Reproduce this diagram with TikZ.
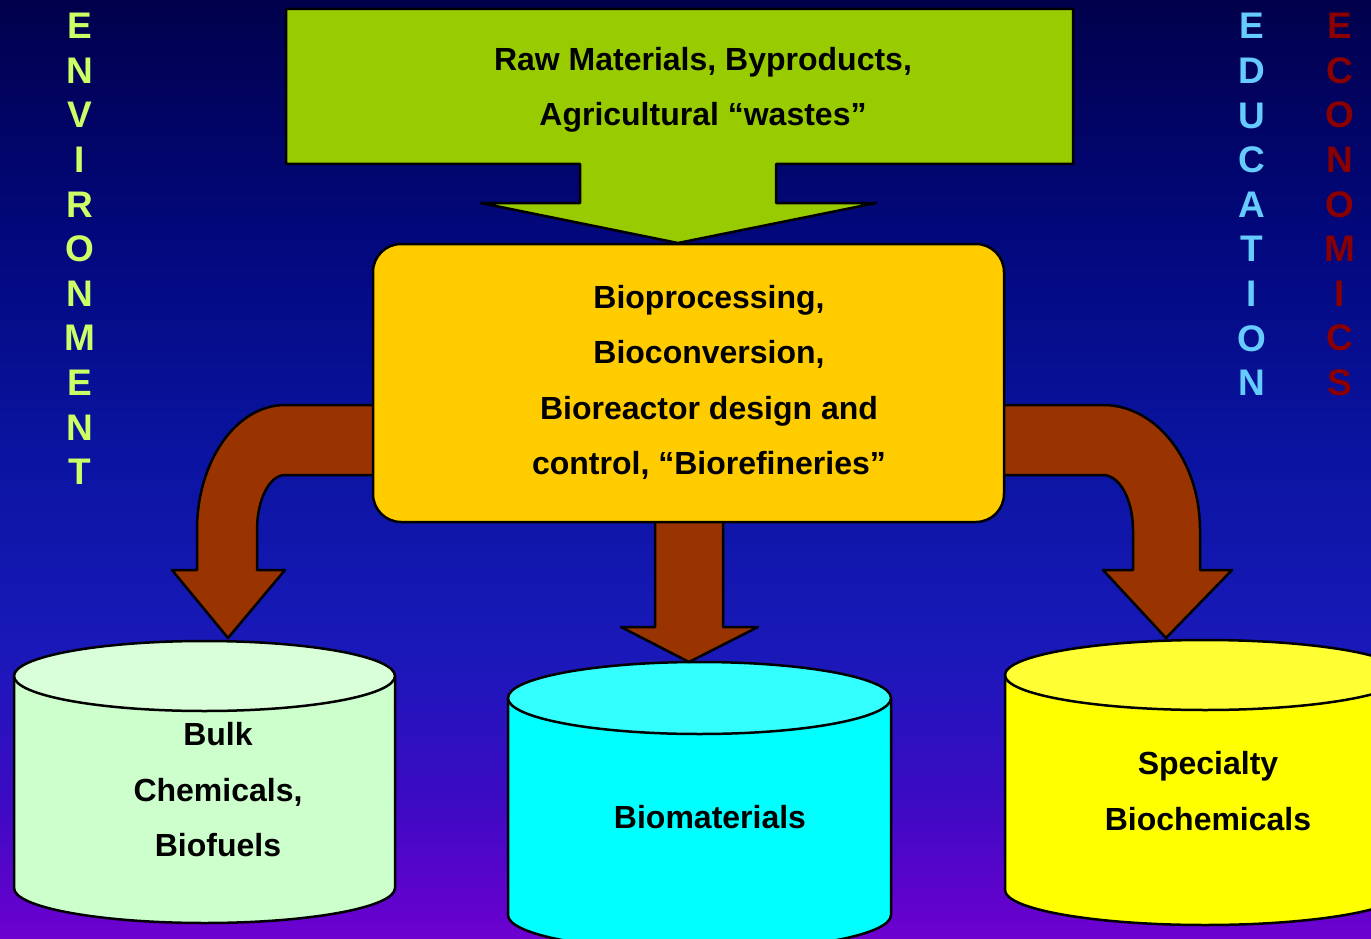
\documentclass[tikz,border=0pt]{standalone}
\usepackage{fontspec}
\setmainfont{Liberation Sans}
\definecolor{bg0}{RGB}{0,0,75}
\definecolor{bg1}{RGB}{2,8,125}
\definecolor{bg2}{RGB}{10,20,160}
\definecolor{bg3}{RGB}{25,25,185}
\definecolor{bg4}{RGB}{60,10,195}
\definecolor{bg5}{RGB}{110,0,208}
\pgfdeclareverticalshading{bgshade}{100bp}{color(0bp)=(bg5); color(25bp)=(bg5); color(32.4bp)=(bg4); color(40.4bp)=(bg3); color(51bp)=(bg2); color(62.2bp)=(bg1); color(75bp)=(bg0); color(100bp)=(bg0)}
\definecolor{rawgreen}{HTML}{99CC00}
\definecolor{procyellow}{HTML}{FFCC00}
\definecolor{arrowbrown}{HTML}{993300}
\definecolor{bulkbody}{HTML}{CCFFCC}
\definecolor{bulktop}{HTML}{D8FFD8}
\definecolor{cyanbody}{HTML}{00FFFF}
\definecolor{cyantop}{HTML}{33FFFF}
\definecolor{yelbody}{HTML}{FFFF00}
\definecolor{yeltop}{HTML}{FFFF33}
\definecolor{envcol}{HTML}{CCFF66}
\definecolor{educol}{HTML}{66CCFF}
\definecolor{ecocol}{HTML}{8A0000}
\tikzset{
  outline/.style={draw=black, line width=2.5pt, line join=round},
  lbl/.style={font=\bfseries\fontsize{32}{55.5}\selectfont, align=center, text=black, inner sep=0pt},
  vert/.style={font=\bfseries\fontsize{37}{44.6}\selectfont, align=center, inner sep=0pt},
  blockarrow/.style={outline, fill=arrowbrown},
}
% #1 cx, #2 rx, #3 top centre y, #4 ry, #5 bottom centre y, #6 body colour, #7 top colour
\newcommand{\drumshape}[7]{%
  \draw[outline, fill=#6] ({#1-#2},#3) -- ({#1-#2},#5)
    .. controls ({#1-#2},{#5+0.5523*#4}) and ({#1-0.5523*#2},{#5+#4}) .. (#1,{#5+#4})
    .. controls ({#1+0.5523*#2},{#5+#4}) and ({#1+#2},{#5+0.5523*#4}) .. ({#1+#2},#5)
    -- ({#1+#2},#3) -- cycle;
  \draw[outline, fill=#7] (#1,#3) ellipse [x radius=#2, y radius=#4];
}
\begin{document}
\begin{tikzpicture}[x=1pt,y=-1pt]
\useasboundingbox (0,0) rectangle (1371,939);
\clip (0,0) rectangle (1371,939);
\shade[shading=bgshade] (0,0) rectangle (1371,939);

% side words
\node[vert, text=envcol] (env) at (80,249) {E\\N\\V\\I\\R\\O\\N\\M\\E\\N\\T};
\node[vert, text=educol] (edu) at (1252,204.5) {E\\D\\U\\C\\A\\T\\I\\O\\N};
\node[vert, text=ecocol] (eco) at (1340,204.5) {E\\C\\O\\N\\O\\M\\I\\C\\S};

% input arrow
\draw[outline, fill=rawgreen] (286,9) -- (1073,9) -- (1073,164) -- (776,164) -- (776,203)
  -- (876,203) -- (678,243) -- (481,203) -- (580,203) -- (580,164) -- (286,164) -- cycle;
\node[lbl] (raw) at (703,90) {Raw Materials, Byproducts,\\Agricultural “wastes”};

% product drums
\drumshape{204.5}{190.5}{676}{35}{888}{bulkbody}{bulktop}
\drumshape{699.5}{191.5}{698}{36}{915}{cyanbody}{cyantop}
\drumshape{1205}{200}{675}{35}{890}{yelbody}{yeltop}

% brown output arrows
\draw[blockarrow] (390,405) -- (285,405) .. controls (236.4,405) and (197,461) .. (197,530)
  -- (197,570) -- (172,570) -- (228,638) -- (285,570) -- (257,570) -- (257,530)
  .. controls (257,499.6) and (269.5,475) .. (285,475) -- (390,475) -- cycle;
\draw[blockarrow] (990,405) -- (1103,405) .. controls (1156.6,405) and (1200,461) .. (1200,530)
  -- (1200,570) -- (1232,570) -- (1166,638) -- (1103,570) -- (1133,570) -- (1133,530)
  .. controls (1133,499.6) and (1119.6,475) .. (1103,475) -- (990,475) -- cycle;
\draw[blockarrow] (655,510) -- (655,627) -- (621,627) -- (689,662) -- (758,627) -- (723,627) -- (723,510) -- cycle;

% process box
\node[outline, fill=procyellow, rounded corners=28pt, minimum width=631pt, minimum height=278pt, inner sep=0pt] (proc) at (688.5,383) {};
\node[lbl] (proctext) at (709,382.5) {Bioprocessing,\\Bioconversion,\\Bioreactor design and\\control, “Biorefineries”};

% drum labels
\node[lbl] (bulk) at (218,790) {Bulk\\Chemicals,\\Biofuels};
\node[lbl] (biomat) at (710,817) {Biomaterials};
\node[lbl] (special) at (1208,791) {Specialty\\Biochemicals};
\end{tikzpicture}
\end{document}
